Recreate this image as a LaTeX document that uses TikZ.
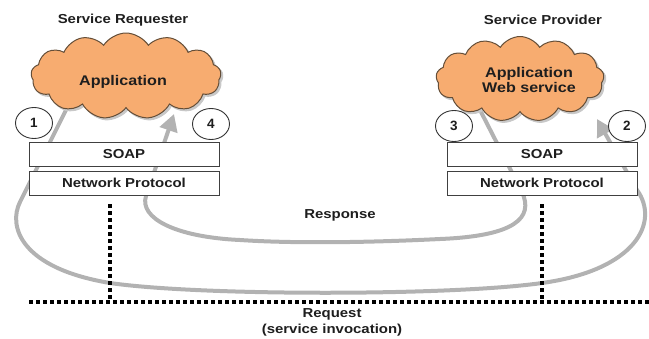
\documentclass[tikz,border=0pt]{standalone}
\usepackage{fontspec}
\setmainfont{Liberation Sans}
\usetikzlibrary{shapes.symbols,shapes.geometric,arrows.meta}
\definecolor{cloudfill}{RGB}{247,172,112}
\definecolor{cloudline}{RGB}{100,78,56}
\definecolor{cloudshade}{RGB}{200,200,200}
\definecolor{flowgray}{RGB}{178,178,178}
\definecolor{inkdark}{RGB}{30,30,30}
\newcommand\wtxt[1]{\scalebox{1.15}[1]{#1}}
\tikzset{
  lbl/.style={font=\fontsize{13}{15}\selectfont\bfseries, text=inkdark, inner sep=0pt, align=center},
  appcloud/.style={cloud, cloud puffs=13, cloud puff arc=115, aspect=2.2,
    fill=cloudfill, draw=cloudline, line width=1pt, inner sep=0pt},
  cloudback/.style={cloud, cloud puffs=13, cloud puff arc=115, aspect=2.2,
    fill=cloudshade, draw=cloudshade, line width=1pt, inner sep=0pt},
  layerbox/.style={draw=black!75, fill=white, line width=1pt, minimum width=190pt,
    minimum height=24pt, inner sep=0pt, font=\fontsize{13}{15}\selectfont\bfseries, text=inkdark},
  stepmark/.style={ellipse, draw=black!80, fill=white, line width=0.9pt, minimum width=37pt,
    minimum height=31pt, inner sep=0pt, font=\fontsize{13.5}{15}\selectfont\bfseries, text=inkdark},
  flow/.style={draw=flowgray, line width=4pt},
  flowtip/.style={flow, -{Triangle[length=17pt,width=18pt]}},
  dots/.style={draw=black, line width=4pt, dash pattern=on 4pt off 3pt}
}
\begin{document}
\begin{tikzpicture}[x=1pt,y=-1pt]
\useasboundingbox (0,0) rectangle (649,338);

% message flows, drawn first so that clouds and boxes sit on top
\coordinate (reqStart) at (71,100);
\coordinate (reqEnd) at (597,119);
\coordinate (resStart) at (479,108);
\coordinate (resEnd) at (174,114);
\draw[flowtip] (reqStart) -- (20,202)
  .. controls (8,226) and (20,268) .. (110,283)
  .. controls (200,296) and (450,296) .. (542,283)
  .. controls (636,270) and (660,222) .. (637,190) -- (reqEnd);
\draw[flowtip] (resStart) -- (522,192)
  .. controls (534,218) and (515,236) .. (440,239)
  .. controls (380,242) and (300,244) .. (240,240)
  .. controls (175,237) and (139,218) .. (146,196) -- (resEnd);

% applications, with a faint shadow behind each cloud
\node[cloudback, minimum width=190pt, minimum height=86pt] (appLs) at (128,78) {};
\node[cloudback, minimum width=168pt, minimum height=85pt] (appRs) at (522,81) {};
\node[appcloud, minimum width=190pt, minimum height=86pt] (appL) at (126,76) {};
\node[appcloud, minimum width=168pt, minimum height=85pt] (appR) at (520,79) {};
\node[lbl, font=\fontsize{14}{16}\selectfont\bfseries] (appLtxt) at (123,82) {\wtxt{Application}};
\node[lbl, font=\fontsize{14}{16}\selectfont\bfseries] (appRtxt) at (529,80) {\wtxt{Application}\\[-1pt]\wtxt{Web service}};

% headings
\node[lbl] (hReq) at (123,20) {\wtxt{Service Requester}};
\node[lbl] (hPrv) at (543,20) {\wtxt{Service Provider}};

% protocol stacks
\node[layerbox] (soapL) at (124,154) {\wtxt{SOAP}};
\node[layerbox] (netL) at (124,183) {\wtxt{Network Protocol}};
\node[layerbox] (soapR) at (542,154) {\wtxt{SOAP}};
\node[layerbox] (netR) at (542,183) {\wtxt{Network Protocol}};

% numbered steps
\node[stepmark] (s1) at (34,123) {1};
\node[stepmark] (s4) at (211,124) {4};
\node[stepmark] (s3) at (454,126) {3};
\node[stepmark] (s2) at (627,126) {2};

% network boundary
\coordinate (lineL) at (29,302);
\coordinate (lineR) at (649,302);
\coordinate (dropL) at (110,204);
\coordinate (dropR) at (542,204);
\coordinate (footL) at (110,300);
\coordinate (footR) at (542,300);
\draw[dots] (lineL) -- (lineR);
\draw[dots] (dropL) -- (footL);
\draw[dots] (dropR) -- (footR);

% flow labels
\node[lbl] (resp) at (340,215) {\wtxt{Response}};
\node[lbl] (reqa) at (332,314) {\wtxt{Request}};
\node[lbl] (reqb) at (332,330) {\wtxt{(service invocation)}};
\end{tikzpicture}
\end{document}
